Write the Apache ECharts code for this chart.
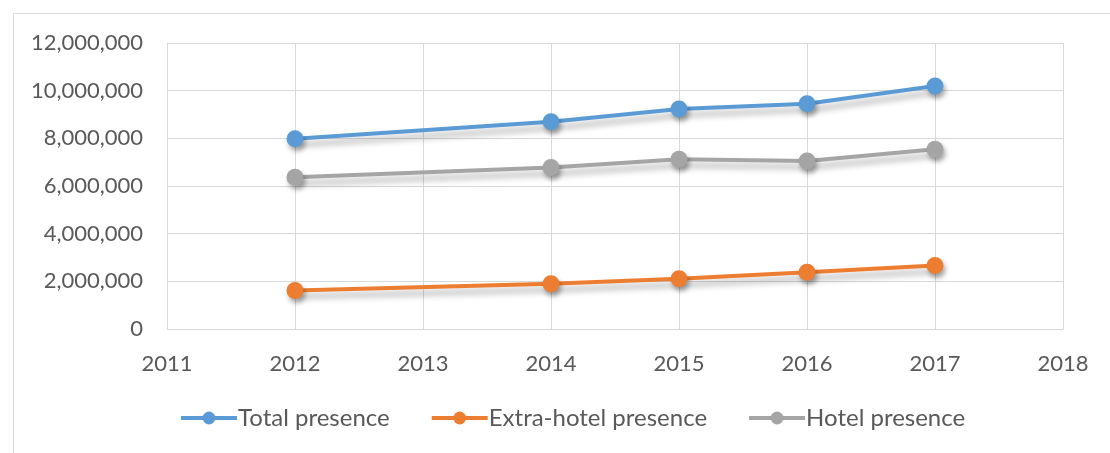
<!DOCTYPE html>
<html><head><meta charset="utf-8">
<script src="https://cdn.jsdelivr.net/npm/echarts@6/dist/echarts.min.js"></script>
<style>html,body{margin:0;padding:0;background:#fff}#c{width:1110px;height:453px}</style>
</head><body><div id="c"></div>
<script>
const years = [2012, 2014, 2015, 2016, 2017];
const totalPresence = [7980000, 8700000, 9230000, 9450000, 10200000];
const extraHotelPresence = [1620000, 1900000, 2110000, 2380000, 2660000];
const hotelPresence = [6370000, 6780000, 7120000, 7050000, 7540000];
const seriesNames = ['Total presence', 'Extra-hotel presence', 'Hotel presence'];
const colors = ['#5b9bd5', '#ed7d31', '#a5a5a5'];
const FONT = 'Lato, "Open Sans", sans-serif';

function mk(name, vals, color) {
  return {
    name, type: 'line',
    data: years.map((y, i) => [y, vals[i]]),
    symbol: 'circle', symbolSize: 17,
    itemStyle: { color, shadowColor: 'rgba(0,0,0,0.35)', shadowBlur: 5, shadowOffsetX: 2, shadowOffsetY: 4 },
    lineStyle: { color, width: 4, shadowColor: 'rgba(0,0,0,0.3)', shadowBlur: 6, shadowOffsetX: 3, shadowOffsetY: 6 }
  };
}
const chart = echarts.init(document.getElementById('c'));
chart.setOption({
  animation: false,
  textStyle: { fontFamily: FONT },
  graphic: [{ type: 'rect', left: 11, top: 11, shape: { width: 1120, height: 470 }, style: { fill: 'none', stroke: '#d9d9d9', lineWidth: 1 } }],
  grid: { left: 167, right: 47, top: 43, bottom: 124, outerBoundsMode: 'none' },
  xAxis: {
    type: 'value', min: 2011, max: 2018, interval: 1,
    axisLine: { show: true, lineStyle: { color: '#d9d9d9', width: 1 } },
    axisTick: { show: false },
    splitLine: { show: true, lineStyle: { color: '#d9d9d9', width: 1 } },
    axisLabel: { color: '#595959', fontSize: 22, margin: 24, fontFamily: FONT, formatter: v => String(v) }
  },
  yAxis: {
    type: 'value', min: 0, max: 12000000, interval: 2000000,
    axisLine: { show: false }, axisTick: { show: false },
    splitLine: { lineStyle: { color: '#d9d9d9', width: 1 } },
    axisLabel: { color: '#595959', fontSize: 22, margin: 24, fontFamily: FONT,
      formatter: v => v.toLocaleString('en-US') }
  },
  legend: {
    bottom: 18, left: 174, itemWidth: 56, itemHeight: 16, itemGap: 40,
    data: seriesNames,
    lineStyle: { width: 4, shadowBlur: 0, shadowOffsetX: 0, shadowOffsetY: 0 },
    itemStyle: { shadowBlur: 0, shadowOffsetX: 0, shadowOffsetY: 0 },
    textStyle: { color: '#595959', fontSize: 24, fontFamily: FONT, padding: [0, 0, 0, -4] }
  },
  series: [
    mk(seriesNames[0], totalPresence, colors[0]),
    mk(seriesNames[1], extraHotelPresence, colors[1]),
    mk(seriesNames[2], hotelPresence, colors[2])
  ]
});
</script></body></html>
